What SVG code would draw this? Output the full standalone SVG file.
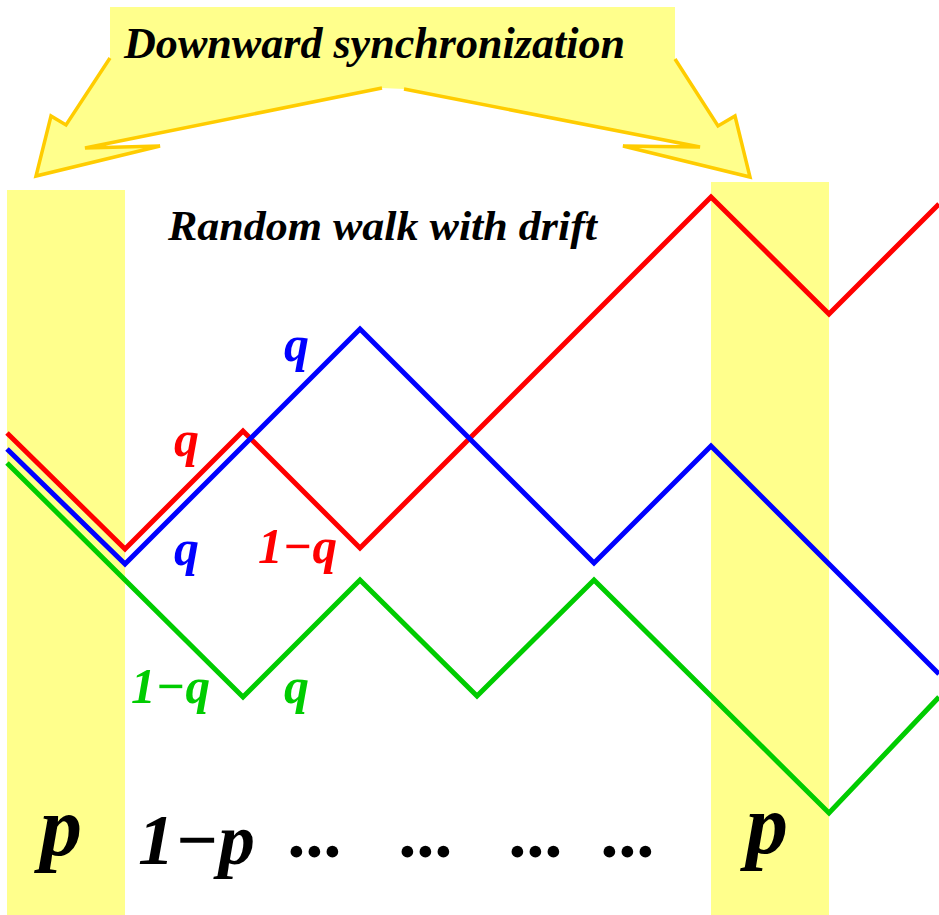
<svg xmlns="http://www.w3.org/2000/svg" width="939" height="915" viewBox="0 0 939 915">
<style>
.band{fill:#ffff8c;}
.walk{fill:none;stroke-width:5;stroke-linejoin:miter;stroke-linecap:butt;}
.t{font-family:"Liberation Serif","Times New Roman",serif;font-weight:bold;font-style:italic;}
.lbl{font-size:50px;}
.big{font-size:72px;fill:#000;}
.pp{font-size:84px;fill:#000;}
.callout-stroke{fill:none;stroke:#ffcc00;stroke-width:3.5;stroke-linejoin:miter;}
</style>
<rect width="939" height="915" fill="#ffffff"/>
<g id="column-left"><rect class="band" x="7" y="190" width="118" height="725"/></g>
<g id="column-right"><rect class="band" x="711" y="182" width="118" height="733"/></g>
<g id="connectors">
<polyline class="walk" stroke="#ff0000" points="7,433 125,549 243,431 360,548 711,197 829,314 939,204"/>
<polyline class="walk" stroke="#0000ff" points="7,449 125,564 360,329 594,563 711,446 939,674"/>
<polyline class="walk" stroke="#00cc00" points="7,463 243,697 360,580 477,696 594,580 829,813 939,697"/>
</g>
<g id="callout">
<polygon class="band" points="110,7 675,7 675,59 718,126 735,116 750,177 623,146 700,147 404,89 382,88 85,148 160,146 36,176 51,116 66,125 110,58"/>
<polyline class="callout-stroke" points="110,58 66,125 51,116 36,176 160,146 85,148 382,88"/>
<polyline class="callout-stroke" points="675,59 718,126 735,116 750,177 623,146 700,147 404,89"/>
<text class="t" x="124" y="58" font-size="44" textLength="501" lengthAdjust="spacingAndGlyphs" fill="#000">Downward synchronization</text>
</g>
<g id="title"><text class="t" x="168" y="240" font-size="43" textLength="429" lengthAdjust="spacingAndGlyphs" fill="#000">Random walk with drift</text></g>
<g id="labels">
<text class="t lbl" x="284" y="361" fill="#0000ff">q</text>
<text class="t lbl" x="174" y="456" fill="#ff0000">q</text>
<text class="t lbl" x="174" y="565" fill="#0000ff">q</text>
<text class="t lbl" x="258" y="563" fill="#ff0000" textLength="79" lengthAdjust="spacingAndGlyphs">1−q</text>
<text class="t lbl" x="131" y="703" fill="#00cc00" textLength="79" lengthAdjust="spacingAndGlyphs">1−q</text>
<text class="t lbl" x="284" y="703" fill="#00cc00">q</text>
</g>
<g id="bottom">
<text class="t pp" x="40" y="855">p</text>
<text class="t big" x="138" y="864" textLength="117" lengthAdjust="spacingAndGlyphs">1−p</text>
<text class="t big" x="290" y="857">...</text>
<text class="t big" x="401" y="857">...</text>
<text class="t big" x="511" y="857">...</text>
<text class="t big" x="603" y="857">...</text>
<text class="t pp" x="746" y="853">p</text>
</g>
</svg>
